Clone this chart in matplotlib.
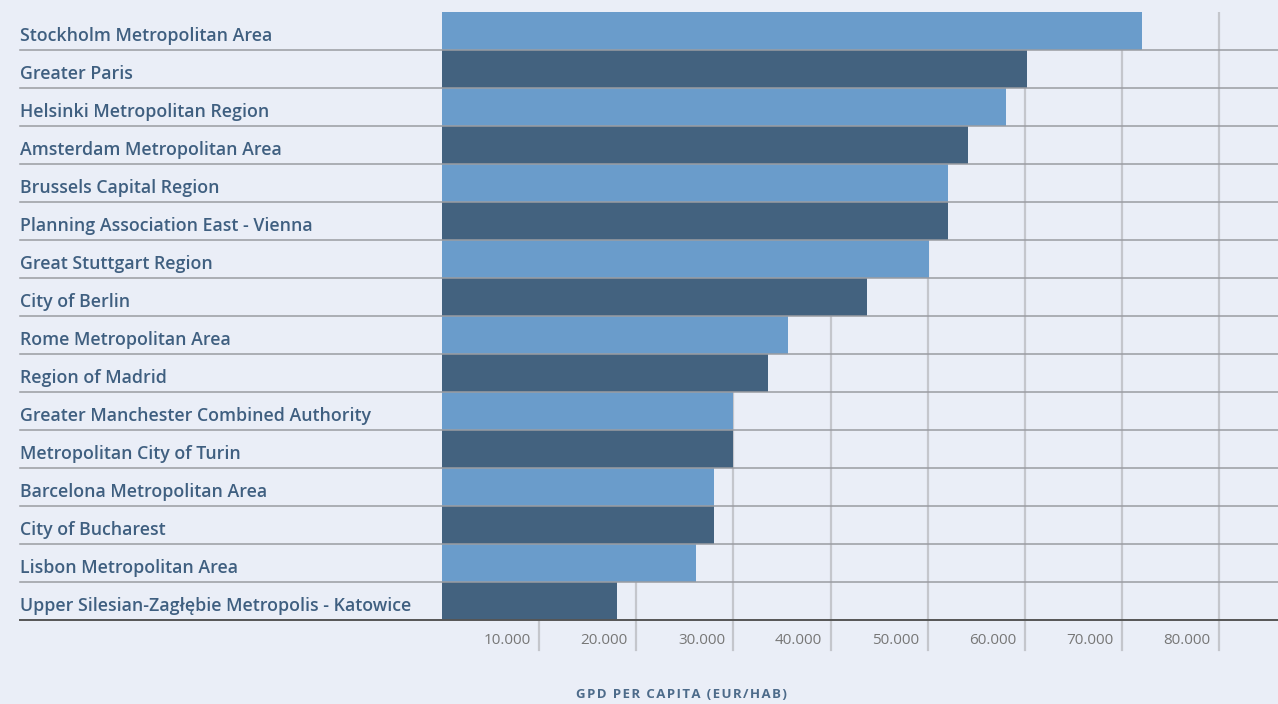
import matplotlib.pyplot as plt
import numpy as np

BG = '#eaeef7'
LIGHT = '#6a9ccb'
DARK = '#43627f'
LABEL = '#3f5f80'
GRID = '#c4c6cc'

regions = [
    'Stockholm Metropolitan Area',
    'Greater Paris',
    'Helsinki Metropolitan Region',
    'Amsterdam Metropolitan Area',
    'Brussels Capital Region',
    'Planning Association East - Vienna',
    'Great Stuttgart Region',
    'City of Berlin',
    'Rome Metropolitan Area',
    'Region of Madrid',
    'Greater Manchester Combined Authority',
    'Metropolitan City of Turin',
    'Barcelona Metropolitan Area',
    'City of Bucharest',
    'Lisbon Metropolitan Area',
    'Upper Silesian-Zagłębie Metropolis - Katowice',
]
gdp = [72100, 60200, 58100, 54100, 52100, 52100, 50100, 43800,
       35600, 33600, 30000, 30000, 28000, 28000, 26100, 18000]
ticks = [10000, 20000, 30000, 40000, 50000, 60000, 70000, 80000]
tick_labels = ['10.000', '20.000', '30.000', '40.000', '50.000', '60.000', '70.000', '80.000']
x_title = 'GPD PER CAPITA (EUR/HAB)'

plt.rcParams['font.family'] = ['Open Sans', 'DejaVu Sans']

W, H = 1278, 704
fig = plt.figure(figsize=(W / 100, H / 100), dpi=100, facecolor=BG)
left_px, right_px, top_px, bottom_px = 442, 1278, 12, 620
ax = fig.add_axes([left_px / W, 1 - bottom_px / H, (right_px - left_px) / W, (bottom_px - top_px) / H])
ax.set_facecolor(BG)

n = len(regions)
y = np.arange(n)
colors = [LIGHT if i % 2 == 0 else DARK for i in range(n)]
ax.barh(y, gdp, height=1.0, color=colors, zorder=2)

ax.set_xlim(0, (right_px - left_px) / 9.714 * 1000)
ax.set_ylim(n - 0.5, -0.5)

# vertical grid, extending below the baseline as tick marks
for t in ticks:
    ax.axvline(t, color=GRID, lw=1.6, zorder=1)
    ax.plot([t, t], [n - 0.5, n - 0.5 + 30 / 38], color=GRID, lw=1.6, clip_on=False, zorder=1)
for t, lab in zip(ticks, tick_labels):
    ax.annotate(lab, xy=(t, n - 0.5), xytext=(-6, -15), textcoords='offset points',
                ha='right', va='center', fontsize=11, color='#777777')

# row separators spanning the label column
ext = -(left_px - 20) / (right_px - left_px)
for i in range(n - 1):
    ax.plot([ext, 1], [i + 0.5, i + 0.5], transform=ax.get_yaxis_transform(),
            color='#9a9ca2', lw=1.1, clip_on=False, zorder=3)
ax.plot([ext, 1], [n - 0.5, n - 0.5], transform=ax.get_yaxis_transform(),
        color='#555555', lw=1.4, clip_on=False, zorder=3)

for i, name in enumerate(regions):
    ax.text(ext, i + 0.13, name, transform=ax.get_yaxis_transform(),
            ha='left', va='center', fontsize=12.8, fontweight='semibold', color=LABEL)

ax.set_xticks([])
ax.set_yticks([])
for s in ax.spines.values():
    s.set_visible(False)

# letter-spaced axis title
fig.text(681 / W, 1 - 695 / H, '\u200a'.join(x_title), ha='center', va='center',
         fontsize=9.5, fontweight='bold', color='#4d6b8a')

fig.savefig('out.png', dpi=100, facecolor=BG)
